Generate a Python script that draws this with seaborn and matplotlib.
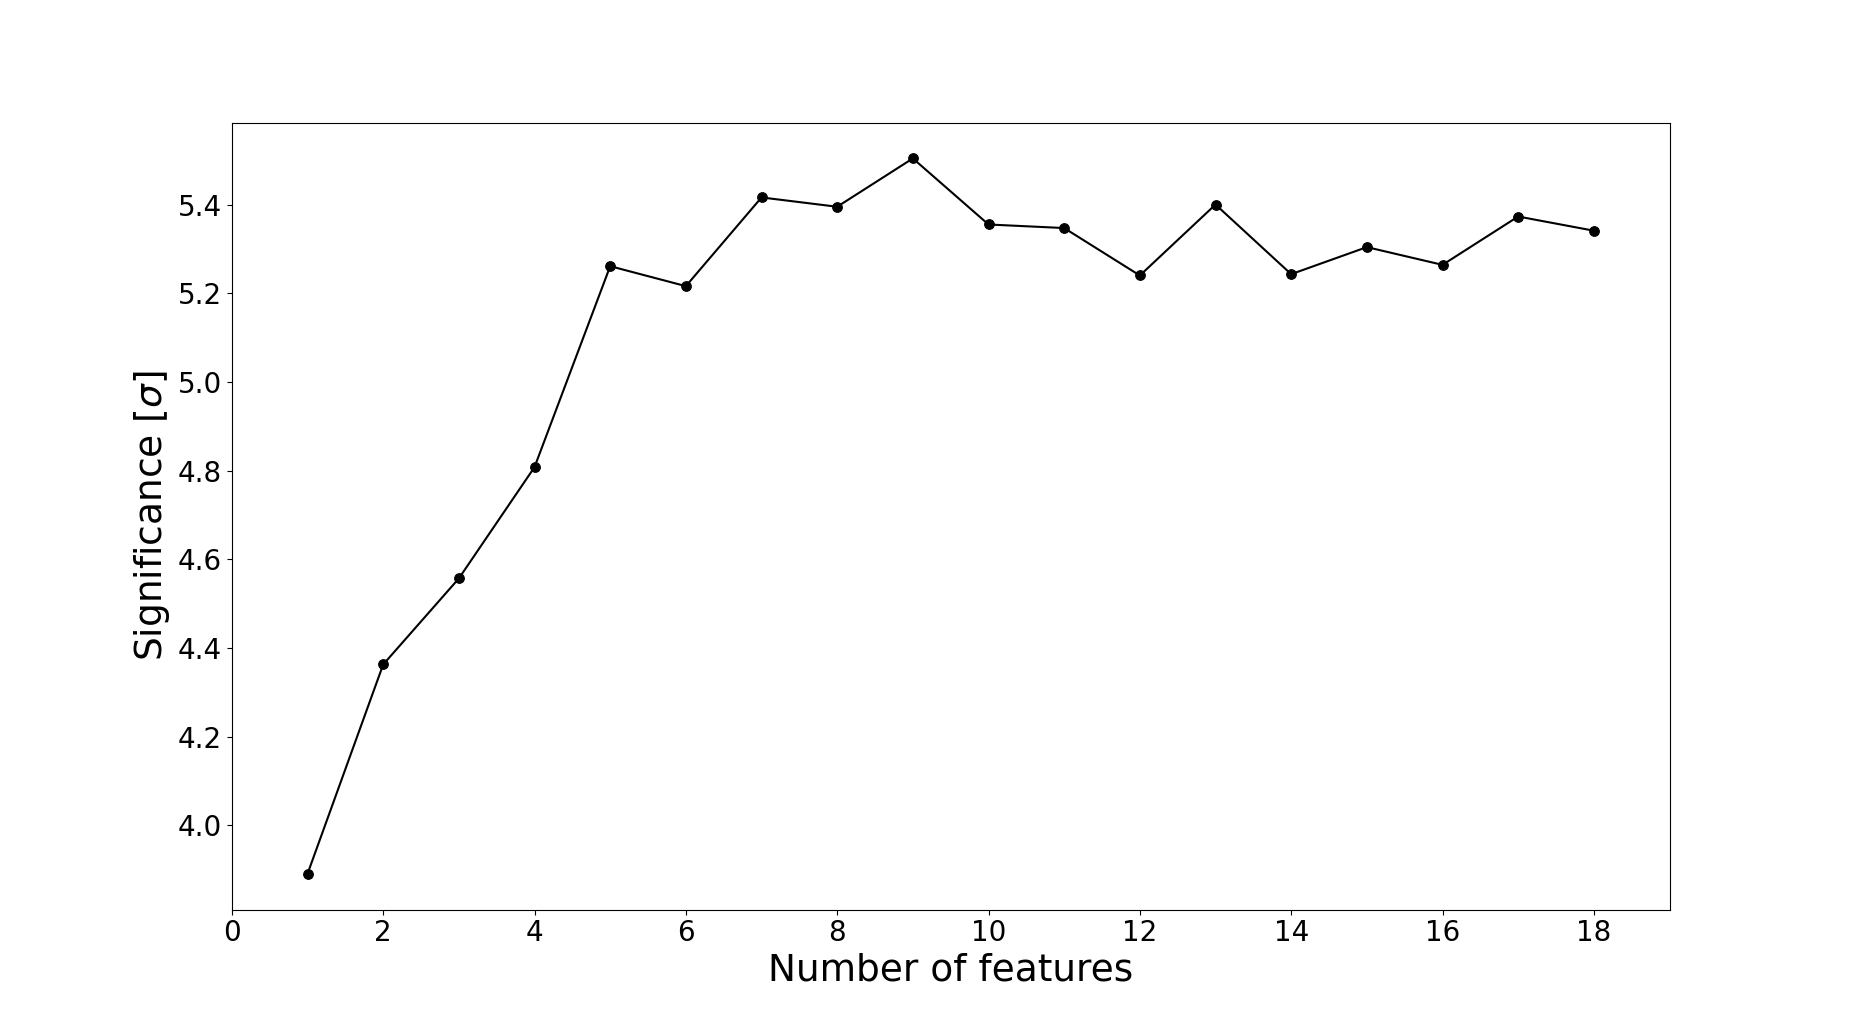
import matplotlib
matplotlib.use("Agg")
import matplotlib.pyplot as plt
import seaborn as sns
import pandas as pd

n_features = [1, 2, 3, 4, 5, 6, 7, 8, 9, 10, 11, 12, 13, 14, 15, 16, 17, 18]
significance = [3.891, 4.363, 4.557, 4.808, 5.261, 5.216, 5.416, 5.395, 5.504,
                5.355, 5.347, 5.240, 5.400, 5.243, 5.304, 5.264, 5.373, 5.341]
x_ticks = [0, 2, 4, 6, 8, 10, 12, 14, 16, 18]

df = pd.DataFrame({"n": n_features, "sig": significance})

fig, ax = plt.subplots(figsize=(18.55, 10.22), dpi=100)
sns.lineplot(data=df, x="n", y="sig", ax=ax, color="black", marker="o",
             markersize=7, markeredgecolor="black", linewidth=1.5)
ax.set_xlim(0, 19)
ax.set_xticks(x_ticks)
ax.tick_params(axis="both", labelsize=20)
ax.set_xlabel("Number of features", fontsize=27)
ax.set_ylabel(r"Significance [$\sigma$]", fontsize=27)
fig.savefig("out.png", dpi=100)
